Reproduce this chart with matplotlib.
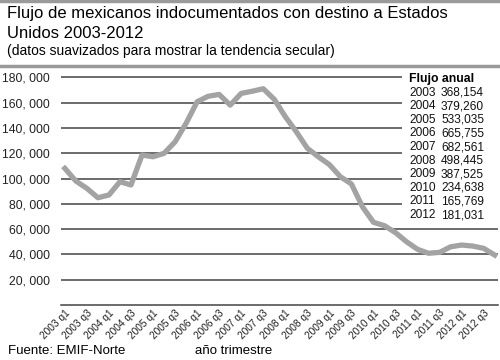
import matplotlib
matplotlib.use("Agg")
import matplotlib.pyplot as plt
from matplotlib.patches import Rectangle
from matplotlib.ticker import FuncFormatter

plt.rcParams["font.family"] = ["Liberation Sans", "DejaVu Sans"]

# quarterly flow, 2003 q1 .. 2012 q4 (smoothed)
years = list(range(2003, 2013))
quarters = [f"{y} q{q}" for y in years for q in (1, 2, 3, 4)]
flow = [108000, 98000, 92200, 84800, 87000, 97500, 94900, 118600, 117200, 119900,
        129000, 143600, 160700, 165000, 166500, 158000, 167300, 169000, 171000, 162600,
        148900, 137000, 123900, 117200, 111000, 101400, 95700, 77700, 65400, 62700,
        57200, 50000, 44000, 40900, 41600, 46000, 47400, 46600, 44800, 39500]

# annual totals shown in the table
annual_years = ["2003", "2004", "2005", "2006", "2007", "2008", "2009", "2010", "2011", "2012"]
annual_flow = ["368,154", "379,260", "533,035", "665,755", "682,561",
               "498,445", "387,525", "234,638", "165,769", "181,031"]

W, H = 500, 360
fig = plt.figure(figsize=(5, 3.6), dpi=100)
ax = fig.add_axes([61 / W, 55 / H, 437 / W, 234 / H])

x = list(range(len(flow)))
ax.plot(x, flow, color="#a3a3a3", lw=3.8, solid_joinstyle="round", zorder=3)

ax.set_xlim(-0.35, 39.3)
ax.set_ylim(0, 185000)
ax.set_yticks(range(20000, 180001, 20000))
ax.yaxis.set_major_formatter(FuncFormatter(lambda v, p: f"{int(v) // 1000}, {int(v) % 1000:03d}"))
ax.grid(axis="y", color="#444444", lw=1.1)
ax.set_axisbelow(True)
for s in ("top", "right", "left"):
    ax.spines[s].set_visible(False)
ax.spines["bottom"].set_color("#444444")
ax.spines["bottom"].set_linewidth(1.1)

ax.set_xticks(x[::2])
ax.set_xticklabels(quarters[::2], rotation=45, ha="right", rotation_mode="anchor", fontsize=7.3)
ax.tick_params(axis="both", length=0)
ax.tick_params(axis="y", labelsize=8.8, pad=8, colors="#222222")
ax.tick_params(axis="x", pad=2, colors="#222222")

# white box behind the annual table
ax.add_patch(Rectangle((0.78, 0.385), 0.23, 0.62, transform=ax.transAxes,
                       facecolor="white", edgecolor="none", zorder=2.5, clip_on=False))

fig.text(409 / W, 1 - 79 / H, "Flujo anual", fontsize=8.8, fontweight="bold", va="center")
for i, (yr, val) in enumerate(zip(annual_years, annual_flow)):
    yy = 1 - (92.7 + 13.6 * i) / H
    fig.text(409 / W, yy, yr, fontsize=8.6, va="center", color="#111111")
    fig.text(484 / W, yy, val, fontsize=8.6, va="center", ha="right", color="#111111")

# header
fig.add_artist(plt.Line2D([0, 1], [1 - 1 / H, 1 - 1 / H], color="#9a9a9a", lw=2.5))
fig.add_artist(plt.Line2D([0, 1], [1 - 66 / H, 1 - 66 / H], color="#9a9a9a", lw=2.5))
fig.text(7 / W, 1 - 13.5 / H, "Flujo de mexicanos indocumentados con destino a Estados",
         fontsize=12, va="center")
fig.text(7 / W, 1 - 33 / H, "Unidos 2003-2012", fontsize=12, va="center")
fig.text(7 / W, 1 - 51 / H, "(datos suavizados para mostrar la tendencia secular)",
         fontsize=10, va="center")

# footer
fig.text(8 / W, 1 - 351.5 / H, "Fuente: EMIF-Norte", fontsize=9.5, va="center")
fig.text(195 / W, 1 - 351.5 / H, "año trimestre", fontsize=9.5, va="center")

fig.savefig("out.png", dpi=100, facecolor="white")
